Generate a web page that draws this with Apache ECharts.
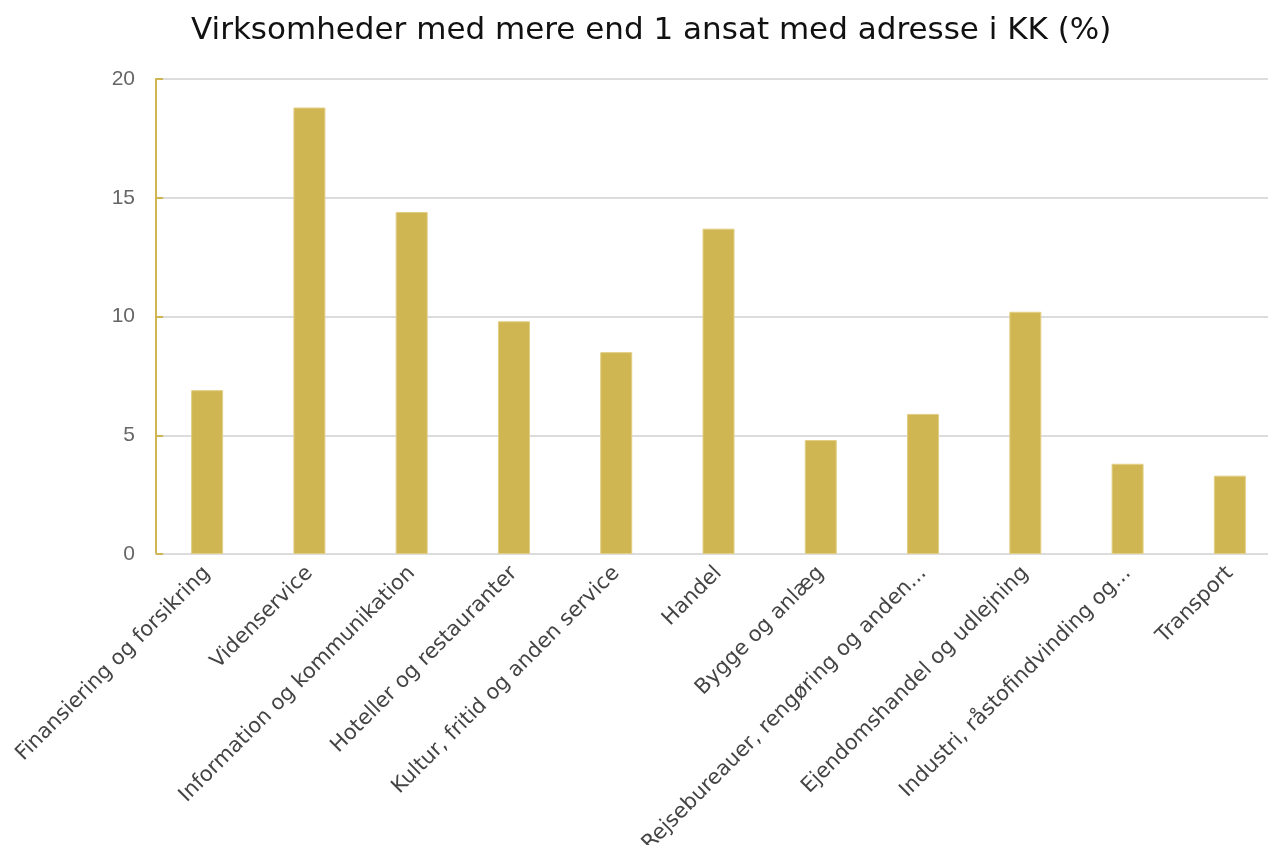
<!DOCTYPE html>
<html>
<head>
<meta charset="utf-8">
<script src="https://cdn.jsdelivr.net/npm/echarts@6/dist/echarts.min.js"></script>
<style>html,body{margin:0;padding:0;background:#fff}#c{width:1268px;height:845px}</style>
</head>
<body>
<div id="c"></div>
<script>
const titleText = 'Virksomheder med mere end 1 ansat med adresse i KK (%)';
const categories = [
  'Finansiering og forsikring',
  'Videnservice',
  'Information og kommunikation',
  'Hoteller og restauranter',
  'Kultur, fritid og anden service',
  'Handel',
  'Bygge og anlæg',
  'Rejsebureauer, rengøring og anden...',
  'Ejendomshandel og udlejning',
  'Industri, råstofindvinding og...',
  'Transport'
];
const values = [6.9, 18.8, 14.4, 9.8, 8.5, 13.7, 4.8, 5.9, 10.2, 3.8, 3.3];

const chart = echarts.init(document.getElementById('c'));
chart.setOption({
  animation: false,
  title: {
    text: titleText,
    left: 186,
    top: 10,
    textStyle: {fontFamily: 'DejaVu Sans', fontSize: 31, fontWeight: 'normal', color: '#111'}
  },
  grid: {left: 156, width: 1125, top: 79, bottom: 291, containLabel: false, outerBoundsMode: 'none'},
  xAxis: {
    type: 'category',
    data: categories,
    axisLine: {lineStyle: {color: '#dcdcdc', width: 2}},
    axisTick: {show: false},
    axisLabel: {
      rotate: 45, interval: 0, margin: 16,
      fontFamily: 'DejaVu Sans', fontSize: 21, color: '#444'
    }
  },
  yAxis: {
    type: 'value',
    min: 0, max: 20, interval: 5,
    axisLine: {show: true, lineStyle: {color: '#d0b652', width: 2}},
    axisTick: {show: true, inside: true, length: 7, lineStyle: {color: '#d0b652', width: 2}},
    splitLine: {lineStyle: {color: '#dcdcdc', width: 2}},
    axisLabel: {margin: 21, fontFamily: 'Liberation Sans', fontSize: 21, color: '#666'}
  },
  series: [{
    type: 'bar',
    data: values,
    barWidth: 32,
    itemStyle: {color: '#d0b652', borderColor: '#e2cf86', borderWidth: 1}
  }]
});
</script>
</body>
</html>
